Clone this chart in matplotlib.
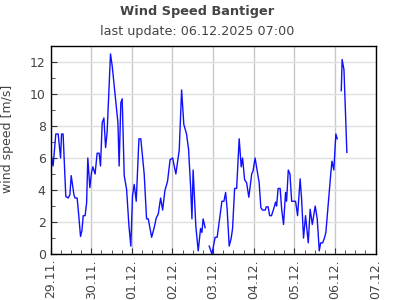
import numpy as np
import pandas as pd
import matplotlib
matplotlib.use('Agg')
import matplotlib.pyplot as plt
import matplotlib.dates as mdates

# hours since 29.11.2025 00:00 and wind speed in m/s (nan = gap in data)
hours = [0, 1.5, 3.1, 4.5, 5.9, 6.5, 7.4, 9.0, 10.4, 11.4, 12.2, 13.8, 14.5, 15.7,
         16.5, 17.7, 18.5, 19.3, 20.4, 21.3, 22.0, 23.2, 24.2, 25.0, 26.3, 27.5,
         28.7, 29.5, 30.5, 31.5, 32.5, 33.4, 35.4, 36.4, 38.0, 39.8, 40.5, 41.5,
         42.3, 43.5, 44.9, 46.3, 47.4, 48.4, 49.4, 50.6, 52.2, 53.3, 55.3, 56.7,
         57.7, 59.7, 61.2, 62.4, 63.6, 65.0, 66.2, 67.5, 69.1, 70.6, 72.1, 74.0,
         76.0, 77.4, 78.7, 80.3, 81.5, 82.7, 83.5, 84.2, 85.8, 87.2, 88.6, 89.4,
         90.1, 91.3, 92.5, 93.7, 95.3, 97.2, 98.4, 99.6, 101.2, 102.4, 103.4, 104.3,
         105.5, 106.7, 107.5, 108.7, 109.9, 111.4, 112.6, 113.4, 114.6, 115.8,
         117.1, 118.8, 119.6, 120.8, 122.2, 123.2, 124.2, 125.2, 126.8, 127.4,
         128.5, 129.4, 130.5, 131.7, 132.9, 133.5, 134.4, 135.6, 136.5, 137.6,
         138.8, 139.4, 140.4, 141.4, 142.4, 144.7, 145.9, 147.4, 148.3, 149.4,
         150.6, 152.2, 153.3, 154.6, 156.3, 157.5, 158.7, 159.5, 160.7, 161.9,
         162.6, 164.2, 165.4, 166.2, 167.3, 168.5, 169.3, 170.5, 171.7, 172.2,
         173.3, 175.0]
speed = [6.4, 5.5, 7.5, 7.5, 6.0, 7.5, 7.5, 3.6, 3.5, 3.7, 4.9, 3.7, 3.5, 3.5,
         2.6, 1.1, 1.45, 2.4, 2.4, 3.2, 6.0, 4.15, 5.1, 5.45, 5.0, 6.3,
         6.3, 5.5, 8.2, 8.5, 6.65, 7.6, 12.5, 11.75, 10.1, 8.2, 5.5, 9.45,
         9.7, 4.9, 4.05, 1.75, 0.5, 3.65, 4.35, 3.3, 7.2, 7.2, 5.0, 2.2,
         2.2, 1.05, 1.65, 2.25, 2.5, 3.5, 2.75, 3.95, 4.55, 5.9, 6.0, 5.0,
         6.5, 10.25, 8.1, 7.5, 6.55, 4.25, 2.2, 5.25, 1.75, 0.2, 1.6, 1.35,
         2.2, 1.65, np.nan, 0.5, 0.0, 1.05, 1.05, 2.0, 3.3, 3.3, 3.85, 2.8,
         0.5, 1.0, 1.6, 4.1, 4.1, 7.2, 5.45, 6.0, 4.65, 4.45,
         3.55, 5.0, 5.2, 6.0, 5.1, 4.45, 2.9, 2.75, 2.75, 2.95,
         2.95, 2.4, 2.4, 2.8, 3.25, 3.0, 4.1, 4.1, 2.8, 1.85,
         3.85, 3.3, 5.25, 5.0, 3.3, 3.3, 2.4, 4.7, 3.4, 1.0,
         2.4, 0.7, 2.8, 1.85, 3.0, 2.2, 0.2, 0.7, 0.7, 1.05,
         1.35, 3.4, 4.9, 5.8, 5.25, 7.5, 7.2, np.nan, 10.2, 12.15,
         11.5, 6.35]

start = pd.Timestamp('2025-11-29 00:00')
times = start + pd.to_timedelta(hours, unit='h')

text_col = '#444444'
plt.rcParams['font.family'] = 'DejaVu Sans'

fig = plt.figure(figsize=(3.95, 3.0), dpi=100)
ax = fig.add_axes([0.128, 0.153, 0.823, 0.694])

ax.plot(times, speed, color='#1010ff', lw=1.0)

ax.set_xlim(pd.Timestamp('2025-11-29'), pd.Timestamp('2025-12-07'))
ax.set_ylim(0, 13)
ax.xaxis.set_major_locator(mdates.DayLocator())
ax.xaxis.set_minor_locator(mdates.HourLocator(byhour=[6, 12, 18]))
ax.xaxis.set_major_formatter(mdates.DateFormatter('%d.%m.'))
ax.set_yticks(np.arange(0, 13, 2))
ax.set_yticks(np.arange(1, 13, 2), minor=True)

ax.grid(True, axis='x', which='major', color='#c8c8c8', lw=1.0)
ax.grid(True, axis='y', which='major', color='#e0e0e0', lw=1.0)
ax.set_axisbelow(True)

ax.tick_params(which='both', direction='in', colors='#333333', labelcolor=text_col, labelsize=9)
ax.tick_params(which='major', length=4)
ax.tick_params(which='minor', length=3)
ax.tick_params(axis='x', labelrotation=90)
for s in ax.spines.values():
    s.set_color('black')
    s.set_linewidth(1.0)

ax.set_ylabel('wind speed [m/s]', color=text_col, fontsize=9)
ax.yaxis.set_label_coords(-0.113, 0.555)

fig.text(0.5, 1 - 11 / 300, 'Wind Speed Bantiger', ha='center', va='center',
         fontsize=9.3, fontweight='bold', color=text_col)
fig.text(0.5, 1 - 31 / 300, 'last update: 06.12.2025 07:00', ha='center', va='center',
         fontsize=9.2, color=text_col)

fig.savefig('out.png', dpi=100)
